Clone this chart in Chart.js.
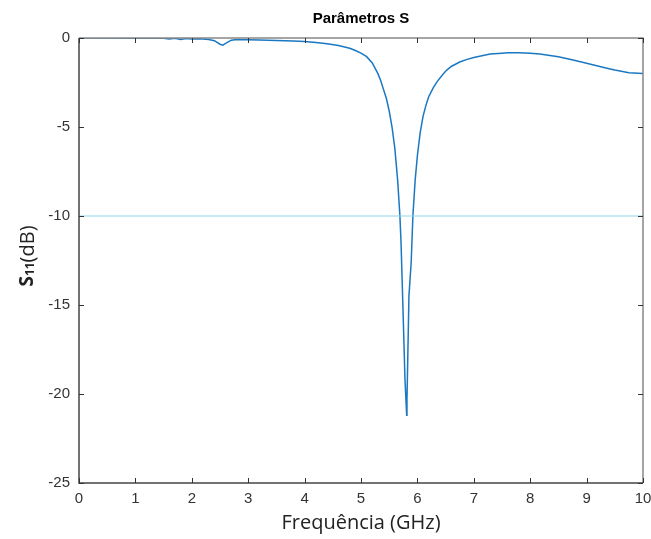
<!DOCTYPE html>
<html>
<head>
<meta charset="utf-8">
<script src="https://cdn.jsdelivr.net/npm/chart.js@4"></script>
<style>
  html, body { margin: 0; padding: 0; background: #fff; }
  #wrap { width: 651px; height: 539px; }
</style>
</head>
<body>
<div id="wrap"><canvas id="chart"></canvas></div>
<script>
const freq = [0, 0.5, 1.0, 1.5, 1.6, 1.7, 1.8, 1.9, 2.0, 2.1, 2.2, 2.3, 2.4, 2.5, 2.55, 2.6, 2.7, 2.8, 2.9, 3.0,
  3.2, 3.5, 3.8, 4.0, 4.2, 4.4, 4.6, 4.8, 4.9, 5.0, 5.1, 5.2, 5.3, 5.35, 5.4, 5.45, 5.5, 5.55, 5.6, 5.65,
  5.69, 5.71, 5.745, 5.78, 5.81, 5.815, 5.83, 5.85, 5.89, 5.92, 5.96, 6.0, 6.05, 6.1, 6.15, 6.2, 6.28, 6.35,
  6.45, 6.52, 6.6, 6.75, 6.88, 7.0, 7.29, 7.5, 7.6, 7.8, 8.0, 8.17, 8.5, 8.76, 9.0, 9.36, 9.5, 9.75, 10];
const s11 = [0, 0, -0.01, -0.02, -0.06, -0.02, -0.08, -0.03, -0.05, -0.04, -0.06, -0.08, -0.15, -0.35, -0.4, -0.3, -0.12, -0.08, -0.1, -0.1,
  -0.11, -0.14, -0.17, -0.2, -0.25, -0.32, -0.42, -0.58, -0.7, -0.85, -1.05, -1.4, -2.0, -2.4, -2.9, -3.4, -4.1, -5.0, -6.2, -8.0,
  -10.0, -11.5, -15.3, -19.2, -21.2, -20.3, -17.9, -14.5, -12.6, -10.0, -8.0, -6.6, -5.3, -4.4, -3.8, -3.3, -2.8, -2.45,
  -2.05, -1.8, -1.6, -1.35, -1.2, -1.1, -0.9, -0.85, -0.83, -0.83, -0.86, -0.9, -1.05, -1.24, -1.42, -1.7, -1.8, -1.95, -2.0];
const refLevel = -10;
const xTicks = [0, 1, 2, 3, 4, 5, 6, 7, 8, 9, 10];
const yTicks = [0, -5, -10, -15, -20, -25];

const curve = freq.map((f, i) => ({ x: f, y: s11[i] }));
const refLine = [{ x: 0, y: refLevel }, { x: 10, y: refLevel }];

const tickFont = { family: '"Liberation Sans Narrow", "Liberation Sans", Arial, sans-serif', size: 15 };

const frame = {
  id: 'frame',
  afterDraw(chart) {
    const { ctx, chartArea: a, scales } = chart;
    ctx.save();
    // box
    ctx.lineWidth = 1.5;
    ctx.strokeStyle = '#888';
    ctx.beginPath();
    ctx.moveTo(a.left, a.top); ctx.lineTo(a.right, a.top); ctx.lineTo(a.right, a.bottom);
    ctx.stroke();
    ctx.strokeStyle = '#444';
    ctx.beginPath();
    ctx.moveTo(a.left, a.top); ctx.lineTo(a.left, a.bottom); ctx.lineTo(a.right, a.bottom);
    ctx.stroke();
    // inward ticks
    ctx.lineWidth = 1;
    ctx.strokeStyle = '#333';
    ctx.beginPath();
    xTicks.forEach(v => {
      const px = Math.round(scales.x.getPixelForValue(v)) + 0.5;
      ctx.moveTo(px, a.bottom); ctx.lineTo(px, a.bottom - 5);
      ctx.moveTo(px, a.top); ctx.lineTo(px, a.top + 5);
    });
    yTicks.forEach(v => {
      const py = Math.round(scales.y.getPixelForValue(v)) + 0.5;
      ctx.moveTo(a.left, py); ctx.lineTo(a.left + 5, py);
      ctx.moveTo(a.right, py); ctx.lineTo(a.right - 5, py);
    });
    ctx.stroke();

    // title
    ctx.fillStyle = '#000';
    ctx.textAlign = 'center';
    ctx.textBaseline = 'middle';
    ctx.font = 'bold 15px "Liberation Sans", Arial, sans-serif';
    ctx.fillText('Parâmetros S', (a.left + a.right) / 2, 19);

    // x axis title
    ctx.fillStyle = '#222';
    ctx.font = '20px "Open Sans", sans-serif';
    ctx.fillText('Frequência (GHz)', (a.left + a.right) / 2, 523);

    // y axis title with subscript
    ctx.translate(28, 256);
    ctx.rotate(-Math.PI / 2);
    ctx.textBaseline = 'middle';
    ctx.textAlign = 'left';
    const parts = [
      { t: 'S', f: 'bold 19px "Open Sans", sans-serif', dy: 0 },
      { t: '11', f: 'bold 12px "Open Sans", sans-serif', dy: 3 },
      { t: '(dB)', f: '20px "Open Sans", sans-serif', dy: 0 }
    ];
    let w = 0;
    parts.forEach(p => { ctx.font = p.f; w += ctx.measureText(p.t).width; });
    let x = -w / 2;
    parts.forEach(p => {
      ctx.font = p.f;
      ctx.fillText(p.t, x, p.dy);
      x += ctx.measureText(p.t).width;
    });
    ctx.restore();
  }
};

new Chart(document.getElementById('chart'), {
  type: 'line',
  data: {
    datasets: [
      { data: refLine, borderColor: '#8fd6ec', borderWidth: 1.2, pointRadius: 0 },
      { data: curve, borderColor: '#1a78c2', borderWidth: 1.5, pointRadius: 0, tension: 0 }
    ]
  },
  options: {
    responsive: true,
    maintainAspectRatio: false,
    animation: false,
    layout: { padding: { top: 38, right: 8, left: 0, bottom: 0 } },
    plugins: { legend: { display: false }, title: { display: false }, tooltip: { enabled: false } },
    scales: {
      x: {
        type: 'linear', min: 0, max: 10,
        afterFit: s => { s.height = 56; s.paddingLeft = 0; s.paddingRight = 0; },
        afterBuildTicks: s => { s.ticks = xTicks.map(v => ({ value: v })); },
        grid: { display: false, drawTicks: false, tickLength: 0 },
        border: { display: false },
        ticks: { font: tickFont, color: '#333', padding: 7, maxRotation: 0 }
      },
      y: {
        type: 'linear', min: -25, max: 0,
        afterFit: s => { s.width = 79; s.paddingTop = 0; s.paddingBottom = 0; },
        afterBuildTicks: s => { s.ticks = yTicks.map(v => ({ value: v })); },
        grid: { display: false, drawTicks: false, tickLength: 0 },
        border: { display: false },
        ticks: { font: tickFont, color: '#333', padding: 9 }
      }
    }
  },
  plugins: [frame]
});
</script>
</body>
</html>
